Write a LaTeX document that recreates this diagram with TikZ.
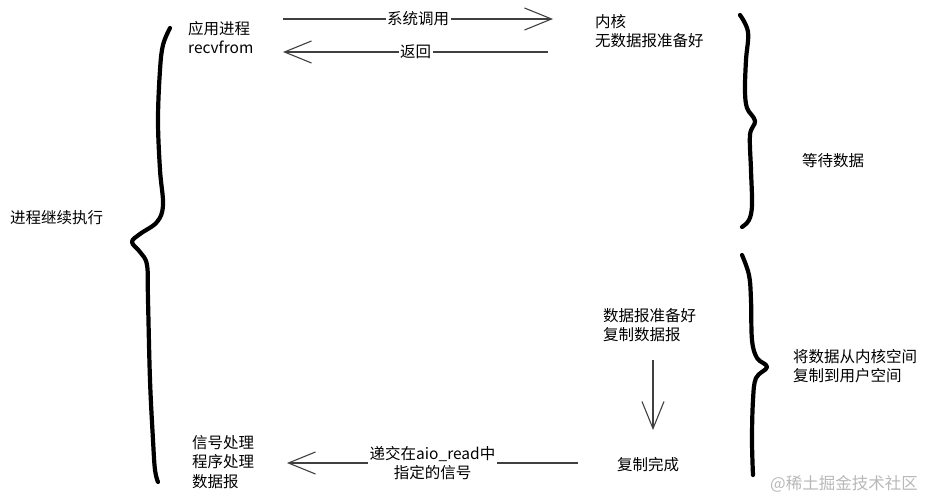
\documentclass[tikz,border=0pt]{standalone}
\usepackage{fontspec}
\setmainfont{Noto Sans CJK SC}
\usetikzlibrary{arrows.meta}
\tikzset{
  txt/.style={inner sep=0pt, anchor=west, align=left, font=\fontsize{15.5}{19.5}\selectfont},
  lbl/.style={inner xsep=1.5pt, inner ysep=0pt, fill=white, align=center, font=\fontsize{15.5}{19.5}\selectfont},
  arr/.style={draw=black!75, line width=1.1pt, -{Straight Barb[length=27pt,width=22pt,line width=1.1pt]}},
  brace/.style={line width=4.2pt, line cap=round, line join=round}
}
\begin{document}
\begin{tikzpicture}[x=1pt,y=-1pt]
\useasboundingbox (0,0) rectangle (930,500);
% texts
\node[txt] (app) at (188,37.5) {应用进程\\recvfrom};
\node[txt] (kern) at (595,31) {内核\\无数据报准备好};
\node[txt] (wait) at (802,161) {等待数据};
\node[txt] (cont) at (10,218) {进程继续执行};
\node[txt] (ready) at (603,325) {数据报准备好\\复制数据报};
\node[txt] (copyk) at (793,366) {将数据从内核空间\\复制到用户空间};
\node[txt] (done) at (617,465) {复制完成};
\node[txt] (sig) at (192,462) {信号处理\\程序处理\\数据报};
\node[inner sep=0pt, text=black!28, font=\fontsize{16.5}{20}\selectfont] (wm) at (844,484) {@稀土掘金技术社区};
% arrow endpoints
\coordinate (c1s) at (283,19);
\coordinate (c1e) at (553,19);
\coordinate (c2s) at (548,52);
\coordinate (c2e) at (283,52);
\coordinate (c3s) at (653,360);
\coordinate (c3e) at (653,430);
\coordinate (c4s) at (578,463);
\coordinate (c4e) at (287,463);
% arrows
\draw[arr] (c1s) -- node[lbl] {系统调用} (c1e);
\draw[arr] (c2s) -- node[lbl] {返回} (c2e);
\draw[arr] (c3s) -- (c3e);
\draw[arr] (c4s) -- node[lbl, pos=0.5] {递交在aio\_read中\\指定的信号} (c4e);
% braces
\draw[brace] plot[smooth, tension=0.6] coordinates {(170,28) (163,45) (160,70) (158,120) (160,170) (163,205) (157,222) (140,234) (132,242) (140,252) (147,265) (148,300) (150,380) (153,440) (155,470) (158,482)};
\draw[brace] plot[smooth, tension=0.6] coordinates {(740,15) (748,32) (746,60) (745,90) (747,108) (755,121) (750,135) (751,170) (752,205) (749,220) (742,227)};
\draw[brace] plot[smooth, tension=0.6] coordinates {(742,255) (749,275) (751,300) (752,340) (757,358) (767,367) (756,378) (753,400) (752,440) (753,475)};
\end{tikzpicture}
\end{document}
